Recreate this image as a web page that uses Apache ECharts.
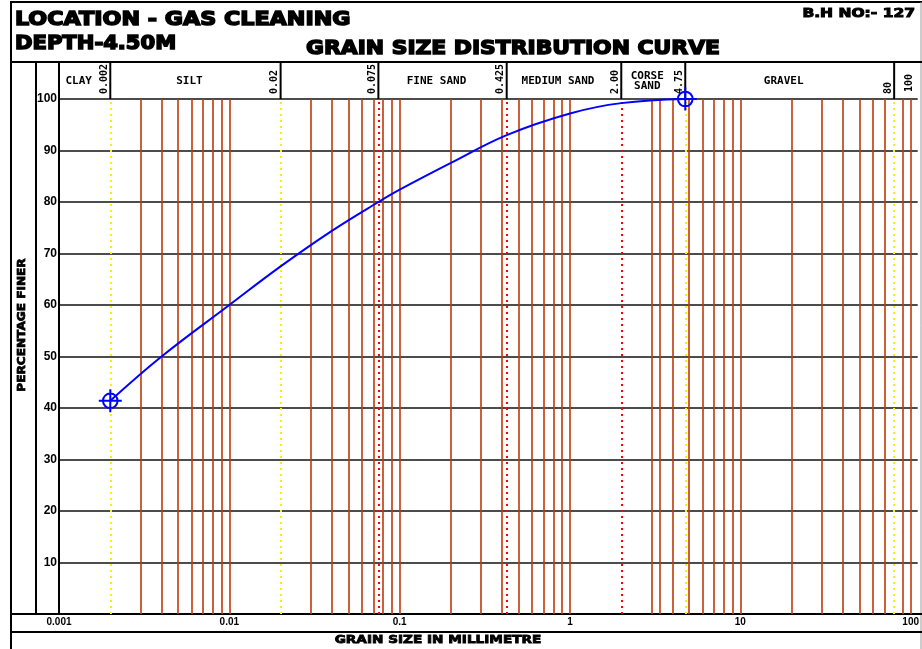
<!DOCTYPE html>
<html>
<head>
<meta charset="utf-8">
<title>Grain size distribution curve</title>
<script src="https://cdn.jsdelivr.net/npm/echarts@6/dist/echarts.min.js"></script>
</head>
<body style="margin:0;background:#fff">
<div id="main" style="width:922px;height:649px;"></div>
<script type="text/javascript">
// grain size (mm) / percentage finer
var grainSize = [0.002, 0.004, 0.01, 0.02, 0.04, 0.075, 0.1, 0.2, 0.425, 1, 2, 4.75];
var percentFiner = [41.4, 50, 60, 67.5, 74.4, 80, 82.4, 87.6, 93, 97.2, 99.2, 100];

// lines printed on the sheet (mm)
var sieveLines = [0.003, 0.004, 0.005, 0.006, 0.007, 0.008, 0.009, 0.01,
    0.03, 0.04, 0.05, 0.06, 0.07, 0.08, 0.09, 0.1,
    0.2, 0.3, 0.4, 0.5, 0.6, 0.7, 0.8, 0.9, 1,
    3, 3.35, 4, 5, 6, 7, 8, 9, 10,
    20, 30, 40, 50, 60, 70, 90, 100];
var yellowLines = [0.002, 0.02, 4.75, 80];
var redDotLines = [0.075, 0.425, 2];

// soil zones and their upper boundaries
var zoneNames = ['CLAY', 'SILT', '', 'FINE SAND', 'MEDIUM SAND', 'CORSE\nSAND', 'GRAVEL'];
var zoneBounds = [0.002, 0.02, 0.075, 0.425, 2, 4.75, 80];
var boundLabels = ['0.002', '0.02', '0.075', '0.425', '2.00', '4.75', '80'];
var lastLabel = '100';

var dom = document.getElementById('main');
var myChart = echarts.init(dom);

var gridLeft = 59;
var markerPath = 'path://M1 12 L23 12 M12 1 L12 23 M19 12 A7 7 0 1 0 5 12 A7 7 0 1 0 19 12';
var lastIdx = grainSize.length - 1;

function vItem(v, color, width, type) {
    return { xAxis: v, lineStyle: { color: color, width: width, type: type } };
}

var gridMarks = sieveLines.map(function (v) { return vItem(v, '#bf3a0a', 1.6, 'solid'); })
    .concat(yellowLines.map(function (v) { return vItem(v, '#ffee00', 2, [2, 4]); }))
    .concat(redDotLines.map(function (v) { return vItem(v, '#ff0000', 2, [2, 4]); }));

var option = {
    animation: false,
    backgroundColor: '#fff',
    grid: { left: gridLeft, right: 0, top: 99, bottom: 35 },
    xAxis: {
        type: 'log',
        logBase: 10,
        min: 0.001,
        max: 110,
        axisLine: { show: true, lineStyle: { color: '#000', width: 2 } },
        axisTick: { show: false },
        splitLine: { show: false },
        axisLabel: {
            color: '#000',
            fontSize: 10,
            fontWeight: 'bold',
            fontFamily: 'Liberation Sans',
            margin: 3,
            showMaxLabel: false,
            formatter: function (v) { return String(+(+v).toPrecision(3)); }
        }
    },
    yAxis: {
        type: 'value',
        min: 0,
        max: 100,
        interval: 10,
        axisLine: { show: true, lineStyle: { color: '#000', width: 2 } },
        axisTick: { show: false },
        splitLine: { show: true, lineStyle: { color: '#111', width: 1.5 } },
        axisLabel: {
            color: '#000',
            fontSize: 12,
            fontWeight: 'bold',
            fontFamily: 'Liberation Sans',
            margin: 2,
            formatter: function (v) { return v === 0 ? '' : String(v); }
        }
    },
    series: [{
        type: 'line',
        data: [],
        silent: true,
        z: 1,
        markLine: {
            silent: true,
            symbol: 'none',
            precision: 6,
            label: { show: false },
            emphasis: { disabled: true },
            data: gridMarks
        }
    }, {
        type: 'line',
        z: 5,
        silent: true,
        smooth: 0.4,
        data: grainSize.map(function (g, i) { return [g, percentFiner[i]]; }),
        lineStyle: { color: '#0000ff', width: 2 },
        symbol: function (v, p) {
            return (p.dataIndex === 0 || p.dataIndex === lastIdx) ? markerPath : 'none';
        },
        symbolSize: 23,
        symbolKeepAspect: true,
        itemStyle: { color: 'rgba(0,0,0,0)', borderColor: '#0000ff', borderWidth: 2 }
    }]
};
myChart.setOption(option);

// frame, titles and zone header drawn around the grid
function line(x1, y1, x2, y2, w, c) {
    return { type: 'line', silent: true, shape: { x1: x1, y1: y1, x2: x2, y2: y2 },
        style: { stroke: c || '#000', lineWidth: w || 2 } };
}
function text(t, x, y, font, opt) {
    opt = opt || {};
    return {
        type: 'text', silent: true, x: x, y: y,
        rotation: opt.rotation || 0,
        scaleX: opt.scaleX || 1,
        style: {
            text: t, font: font, fill: '#000',
            stroke: opt.heavy ? '#000' : null, lineWidth: opt.heavy || 0,
            textAlign: opt.align || 'left', textVerticalAlign: 'middle',
            lineHeight: opt.lineHeight
        }
    };
}

var heavy = 'bold 19px "DejaVu Sans"';
var small = 'bold 11px "DejaVu Sans"';
var mono = 'bold 11px "DejaVu Sans Mono"';
var monoSmall = 'bold 10px "DejaVu Sans Mono"';

var graphics = [
    line(10, 2, 922, 2),
    line(11, 2, 11, 649),
    line(921, 2, 921, 649, 1, '#999'),
    line(10, 62, 922, 62),
    line(36, 62, 36, 614),
    line(gridLeft, 62, gridLeft, 99),
    line(10, 614, 922, 614),
    line(10, 632, 922, 632),
    text('LOCATION - GAS CLEANING', 15, 20, heavy, { scaleX: 1.17, heavy: 1.5 }),
    text('DEPTH-4.50M', 15, 44, heavy, { scaleX: 1.11, heavy: 1.5 }),
    text('GRAIN SIZE DISTRIBUTION CURVE', 306, 49, 'bold 19.5px "DejaVu Sans"', { scaleX: 1.12, heavy: 1.5 }),
    text('B.H NO:- 127', 915, 14, 'bold 12.5px "DejaVu Sans"', { scaleX: 1.24, align: 'right', heavy: 1 }),
    text('PERCENTAGE FINER', 22, 325, small, { rotation: Math.PI / 2, align: 'center', scaleX: 1.1, heavy: 0.8 }),
    text('GRAIN SIZE IN MILLIMETRE', 438, 640, small, { align: 'center', scaleX: 1.24, heavy: 0.8 })
];

var prev = gridLeft;
zoneBounds.forEach(function (b, i) {
    var x = myChart.convertToPixel({ xAxisIndex: 0 }, b);
    graphics.push(line(x, 62, x, 99));
    graphics.push(text(boundLabels[i], x - 6, 94, monoSmall, { rotation: Math.PI / 2 }));
    if (zoneNames[i]) {
        graphics.push(text(zoneNames[i], (prev + x - 12) / 2, 81, mono, { align: 'center', lineHeight: 10 }));
    }
    prev = x;
});
var x100 = myChart.convertToPixel({ xAxisIndex: 0 }, 100);
graphics.push(text(lastLabel, x100 - 1, 92, monoSmall, { rotation: Math.PI / 2 }));

myChart.setOption({ graphic: graphics });
</script>
</body>
</html>
